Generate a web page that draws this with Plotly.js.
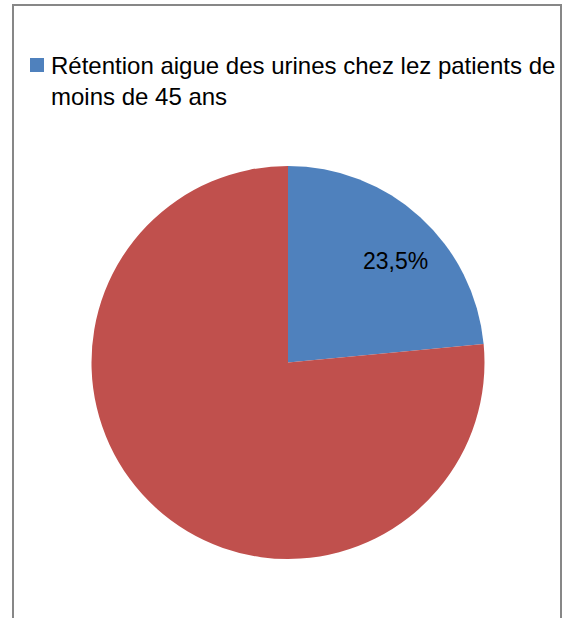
<!DOCTYPE html>
<html>
<head>
<meta charset="utf-8">
<script src="https://cdn.plot.ly/plotly-3.0.1.min.js"></script>
<style>
html,body{margin:0;padding:0;background:#fff;}
#chart{width:568px;height:618px;}
</style>
</head>
<body>
<div id="chart"></div>
<script>
const labels = ["Rétention aigue des urines chez lez patients de moins de 45 ans", "Autres"];
const values = [23.5, 76.5];
const valueLabels = ["23,5%", ""];
const colors = ["#4F81BD", "#C0504D"];

const FONT = "'Liberation Sans', Arial, sans-serif";

const trace = {
  type: "pie",
  labels: labels,
  values: values,
  textinfo: "none",
  marker: {colors: colors, line: {width: 0}},
  sort: false,
  direction: "clockwise",
  rotation: 0,
  hoverinfo: "none",
  showlegend: false,
  domain: {x: [91/568, 485/568], y: [1 - 559/618, 1 - 166/618]}
};

const splitAt = labels[0].indexOf("moins");
const legendLine1 = labels[0].slice(0, splitAt).trim();
const legendLine2 = labels[0].slice(splitAt);

const layout = {
  width: 568, height: 618,
  margin: {l: 0, r: 0, t: 0, b: 0},
  paper_bgcolor: "#fff",
  showlegend: false,
  shapes: [
    {type: "rect", xref: "paper", yref: "paper",
     x0: 13/568, x1: 561/568, y0: -0.05, y1: 1 - 5/618,
     line: {color: "#878787", width: 2}, fillcolor: "rgba(0,0,0,0)"},
    {type: "rect", xref: "paper", yref: "paper",
     x0: 30/568, x1: 44/568, y0: 1 - 72/618, y1: 1 - 58/618,
     line: {width: 0}, fillcolor: colors[0]}
  ],
  annotations: [
    {xref: "paper", yref: "paper", x: 49/568, y: 1 - 65/618,
     xanchor: "left", yanchor: "middle", align: "left", showarrow: false,
     text: legendLine1, font: {family: FONT, size: 24, color: "#000"}},
    {xref: "paper", yref: "paper", x: 49/568, y: 1 - 97/618,
     xanchor: "left", yanchor: "middle", align: "left", showarrow: false,
     text: legendLine2, font: {family: FONT, size: 24, color: "#000"}},
    {xref: "paper", yref: "paper", x: 395/568, y: 1 - 261/618,
     xanchor: "center", yanchor: "middle", showarrow: false,
     text: valueLabels[0], font: {family: FONT, size: 23, color: "#000"}}
  ]
};

Plotly.newPlot("chart", [trace], layout, {displayModeBar: false, staticPlot: true});
</script>
</body>
</html>
